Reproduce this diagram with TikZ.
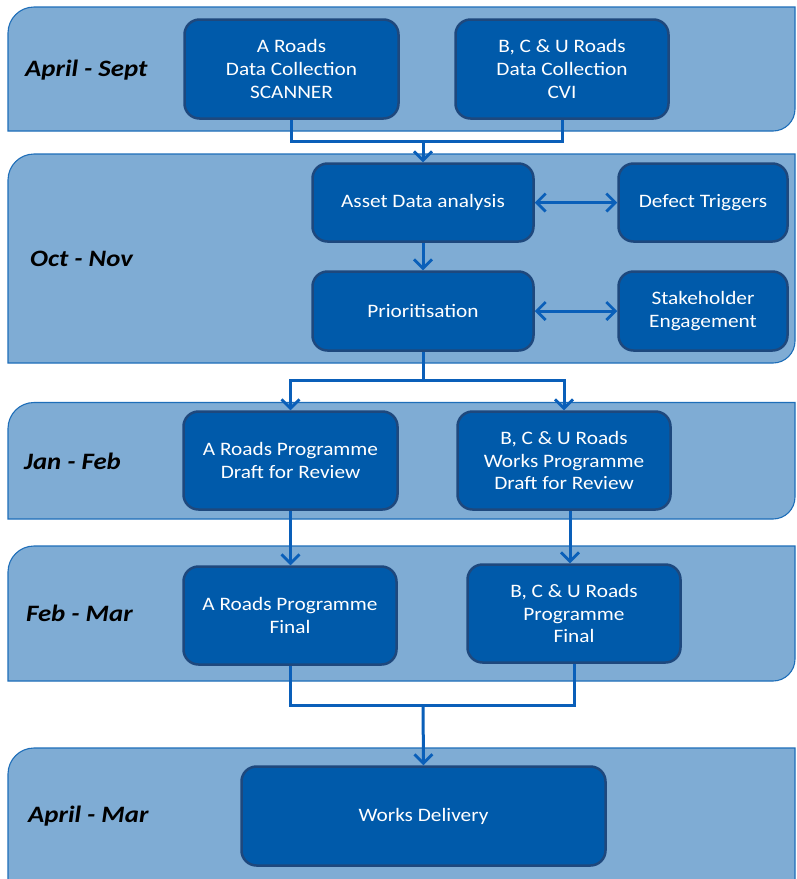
\documentclass[tikz,border=0pt]{standalone}
\usepackage{fontspec}
\setmainfont{Carlito}[FakeStretch=1.12]
\newfontfamily\labfont{Carlito}[FakeStretch=1.14]
\usetikzlibrary{arrows.meta,calc}
\definecolor{bandfill}{RGB}{127,172,212}
\definecolor{bandline}{RGB}{30,110,185}
\definecolor{boxfill}{RGB}{0,90,170}
\definecolor{boxline}{RGB}{30,72,125}
\definecolor{conncol}{RGB}{10,95,185}
\tikzset{
  band/.style={fill=bandfill, draw=bandline, line width=1.1pt},
  box/.style={rectangle, rounded corners=15pt, fill=boxfill, draw=boxline, line width=2.5pt,
    text=white, align=center, inner sep=2pt,
    font=\fontsize{19}{22.8}\selectfont},
  lab/.style={anchor=west, text=black, inner sep=0pt,
    font=\labfont\bfseries\itshape\fontsize{23.5}{27}\selectfont},
  conn/.style={draw=conncol, line width=3pt},
  arr/.style={conn, -{Straight Barb[length=9pt,width=18pt,line width=2.8pt]}},
  darr/.style={conn, {Straight Barb[length=9pt,width=18pt,line width=2.8pt]}-{Straight Barb[length=9pt,width=18pt,line width=2.8pt]}},
}
\newcommand{\bandshape}[4]{% x1, ytop, x2, ybottom (pixel coords, y downwards)
  \path[band] (#1,-#4) -- (#1,-#2-26) arc (180:90:26) -- (#3,-#2) -- (#3,-#4+22) arc (0:-90:22) -- cycle;
}
\begin{document}
\begin{tikzpicture}[x=1pt,y=1pt]
\useasboundingbox (0,0) rectangle (796,-879);
\clip (0,0) rectangle (796,-879);
\fill[white] (0,0) rectangle (796,-879);
% bands
\bandshape{8}{7}{795}{131}
\bandshape{8}{154}{795}{363}
\bandshape{8}{402.5}{795}{519}
\bandshape{8}{546}{795}{681}
\path[band] (8,-920) -- (8,-748-26) arc (180:90:26) -- (795,-748) -- (795,-920) -- cycle;
% labels
\node[lab] (l1) at (25,-70) {April - Sept};
\node[lab] (l2) at (30,-259) {Oct - Nov};
\node[lab] (l3) at (24,-461) {Jan - Feb};
\node[lab] (l4) at (26,-613) {Feb - Mar};
\node[lab] (l5) at (28,-816) {April - Mar};
% boxes
\node[box, minimum width=214pt, minimum height=99pt] (dcA) at (291.5,-69) {A Roads\\Data Collection\\SCANNER};
\node[box, minimum width=213pt, minimum height=99pt] (dcB) at (562,-69) {B, C \& U Roads\\Data Collection\\CVI};
\node[box, minimum width=221pt, minimum height=78pt] (asset) at (423,-202.5) {Asset Data analysis};
\node[box, minimum width=169pt, minimum height=78pt] (defect) at (703,-202.5) {Defect Triggers};
\node[box, minimum width=221pt, minimum height=79pt] (prior) at (423,-311) {Prioritisation};
\node[box, minimum width=169pt, minimum height=79pt] (stake) at (703,-311) {Stakeholder\\Engagement};
\node[box, minimum width=214pt, minimum height=98pt] (draftA) at (290.5,-460.5) {A Roads Programme\\Draft for Review};
\node[box, minimum width=213pt, minimum height=98pt] (draftB) at (564,-460.5) {B, C \& U Roads\\Works Programme\\Draft for Review};
\node[box, minimum width=213pt, minimum height=98pt] (finA) at (290,-615.5) {A Roads Programme\\Final};
\node[box, minimum width=213pt, minimum height=98pt] (finB) at (574,-613.5) {B, C \& U Roads\\Programme\\Final};
\node[box, minimum width=364pt, minimum height=99pt] (works) at (423.5,-816) {Works Delivery};
% junction coordinates
\coordinate (j1) at (423,-141);
\coordinate (j2) at (423,-380);
\coordinate (mB) at (570,-537);
\coordinate (j3) at (423,-705);
% connectors
\draw[conn] (dcA.south) -- (dcA.south |- j1) -- (dcB.south |- j1) -- (dcB.south);
\draw[arr] (j1) -- (asset.north);
\draw[arr] (asset.south) -- (prior.north);
\draw[darr] (asset.east) -- (defect.west);
\draw[darr] (prior.east) -- (stake.west);
\draw[conn] (prior.south) -- (j2);
\draw[arr] (j2) -- (draftA.north |- j2) -- (draftA.north);
\draw[arr] (j2) -- (draftB.north |- j2) -- (draftB.north);
\draw[arr] (draftA.south) -- (draftA.south |- finA.north);
\draw[arr] (draftB.south -| mB) -- (finB.north -| mB);
\draw[conn] (finA.south) -- (finA.south |- j3) -- (finB.south |- j3) -- (finB.south);
\draw[arr] (j3) -- (works.north);
\end{tikzpicture}
\end{document}
